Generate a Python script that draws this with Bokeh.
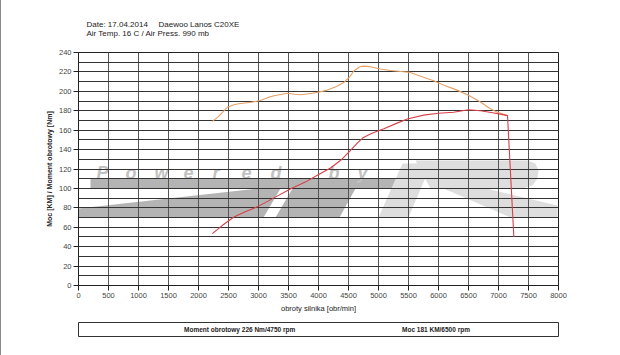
from bokeh.plotting import figure
from bokeh.layouts import column
from bokeh.models import (Range1d, SingleIntervalTicker, Label, Legend, LegendItem,
                          PolyAnnotation)
from bokeh.embed import file_html
from bokeh.resources import INLINE

# ---------------- data ----------------
title_date = "Date: 17.04.2014"
title_car = "Daewoo Lanos C20XE"
title_air = "Air Temp. 16 C / Air Press. 990 mb"
x_label = "obroty silnika [obr/min]"
y_label = "Moc [KM] / Moment obrotowy [Nm]"
torque_name = "Moment obrotowy 226 Nm/4750 rpm"
power_name = "Moc 181 KM/6500 rpm"
watermark_text = "Powered by"

torque_rpm = [2230, 2330, 2480, 2600, 2700, 2850, 3030, 3150, 3260, 3480, 3600, 3700,
              3900, 4140, 4300, 4420, 4520, 4590, 4680, 4750, 4850, 5030, 5200, 5370,
              5530, 5750, 5920, 6100, 6300, 6500, 6700, 6850, 6980, 7080, 7150]
torque_nm = [169, 174, 183.5, 186.5, 187.5, 188.5, 190.5, 193.5, 195.5, 198, 197, 196.5,
             198, 201, 205, 209, 215, 221, 225, 226, 225.5, 223, 221.5, 220.5,
             219.5, 214.5, 211, 206, 201.5, 196, 189, 182.5, 178.5, 176.5, 175]

power_rpm = [2230, 2400, 2590, 2780, 2980, 3250, 3530, 3780, 3980, 4200, 4370, 4530,
             4650, 4750, 4900, 5090, 5300, 5480, 5750, 6000, 6250, 6500, 6700, 6900,
             7030, 7150, 7256]
power_km = [53.5, 62, 70.5, 76, 81, 90, 99.5, 106.5, 113.5, 121, 129, 139,
            147, 152.5, 157, 161.5, 167, 171.5, 175.5, 177.5, 178.5, 181, 180, 178,
            176.5, 175, 50]

x_min, x_max, x_step = 0, 8000, 500
y_min, y_max, y_step = 0, 240, 20

# ---------------- layout ----------------
EDGE = 1                      # grey left edge of the picture
W = 620 - EDGE                # figure width
H_TOP, H_MAIN, H_LEG = 40, 278, 37
CL, CR = 78, 558              # frame left/right in page pixels
FL, FR = CL - EDGE, CR - EDGE # same, inside figures
FT, FB = 52 - H_TOP, 285 - H_TOP        # frame top/bottom inside main figure
LEG_TOP, LEG_BOT = 322 - H_TOP - H_MAIN, 336 - H_TOP - H_MAIN
FONT = "Liberation Sans"
TORQUE_COL = "#e4a066"
POWER_COL = "#d8404a"


def strip_fig(h, top_border, bottom_border, outline):
    # frame spans page pixels CL..CR horizontally; ranges are in page pixels
    f = figure(width=W, height=h, x_range=Range1d(CL, CR),
               y_range=Range1d(h - bottom_border, top_border),
               x_axis_type=None, y_axis_type=None, output_backend="svg",
               toolbar_location=None, min_border_left=FL, min_border_right=W - FR,
               min_border_top=top_border, min_border_bottom=bottom_border)
    f.outline_line_color = outline
    f.background_fill_color = "white"
    f.border_fill_color = "white"
    return f


# ---- title strip ----
top = strip_fig(H_TOP, 0, 0, None)
for txt, px, py in ((title_date, 86, 24), (title_car, 158, 24), (title_air, 86, 33)):
    top.add_layout(Label(x=px, y=py, text=txt, text_font=FONT, text_font_size="8px",
                         text_color="#222222", text_baseline="alphabetic"))

# ---- main chart ----
p = figure(width=W, height=H_MAIN, x_range=Range1d(x_min, x_max), y_range=Range1d(y_min, y_max),
           output_backend="svg", toolbar_location=None,
           min_border_left=FL, min_border_right=W - FR,
           min_border_top=FT, min_border_bottom=H_MAIN - FB)
p.background_fill_color = "white"
p.border_fill_color = "white"
p.outline_line_color = "#222222"

p.xaxis.ticker = SingleIntervalTicker(interval=x_step, num_minor_ticks=0)
p.yaxis.ticker = SingleIntervalTicker(interval=y_step, num_minor_ticks=2)
for ax in (p.xaxis[0], p.yaxis[0]):
    ax.axis_line_color = "#222222"
    ax.major_tick_line_color = "#222222"
    ax.major_tick_out = 5
    ax.major_tick_in = 0
    ax.minor_tick_line_color = None
    ax.major_label_text_font = FONT
    ax.major_label_text_font_size = "7.5px"
    ax.major_label_text_color = "#444444"
    ax.major_label_standoff = 2
    ax.axis_label_text_font = FONT
    ax.axis_label_text_color = "#222222"

p.xaxis.axis_label = x_label
p.xaxis.axis_label_text_font_size = "7.5px"
p.xaxis.axis_label_text_font_style = "normal"
p.xaxis.axis_label_standoff = 3
p.yaxis.axis_label = y_label
p.yaxis.axis_label_text_font_size = "7px"
p.yaxis.axis_label_text_font_style = "bold"
p.yaxis.axis_label_standoff = 3

p.xgrid.grid_line_color = "#555555"
p.ygrid.grid_line_color = "#333333"
p.ygrid.minor_grid_line_color = "#333333"

# watermark (decoration, page pixels converted to the main figure's canvas)
DARK = "#b4b4b4"
LIGHT = "#dedede"
wm_shapes = [
    (DARK, [90, 411, 403, 90], [178, 178, 188, 188]),
    (DARK, [78, 258, 280, 263, 78], [208, 188, 188, 217, 217]),
    (DARK, [292, 355, 339, 275], [188, 188, 217, 217]),
    (LIGHT, [402, 431, 408, 378], [163, 163, 217, 217]),
    (LIGHT, [415, 527, 535, 538, 537, 532, 522, 430], [160, 160, 163, 170, 178, 185, 188, 188]),
    (LIGHT, [443, 486, 557, 557, 510], [188, 188, 205, 217, 217]),
]
for col, xs, ys in wm_shapes:
    p.add_layout(PolyAnnotation(xs=[v - EDGE for v in xs], ys=[v - H_TOP for v in ys],
                                xs_units="canvas", ys_units="canvas",
                                fill_color=col, fill_alpha=1, line_color=None, level="image"))


def cx(px):
    return (px - CL) / (CR - CL) * (x_max - x_min) + x_min


def cy(py):
    return (FB - (py - H_TOP)) / (FB - FT) * (y_max - y_min) + y_min


for i, ch in enumerate(watermark_text):
    if ch == " ":
        continue
    p.add_layout(Label(x=cx(96 + i * 29), y=cy(172), text=ch, text_font=FONT,
                       text_font_size="18px", text_font_style="bold italic",
                       text_color="#c2c2c2", text_baseline="alphabetic", level="image"))

r_t = p.line(torque_rpm, torque_nm, line_color=TORQUE_COL, line_width=1.1)
r_p = p.line(power_rpm, power_km, line_color=POWER_COL, line_width=1.1)

# ---- legend strip (its frame outline is the legend box) ----
leg_fig = strip_fig(H_LEG, LEG_TOP, H_LEG - LEG_BOT, "#333333")
lt = leg_fig.line([], [], line_color=TORQUE_COL, line_width=1.1)
lp = leg_fig.line([], [], line_color=POWER_COL, line_width=1.1)
for rend, name, gx in ((lt, torque_name, 168), (lp, power_name, 386)):
    leg = Legend(items=[LegendItem(label=name, renderers=[rend])],
                 location=(gx - CL, 2),
                 padding=0, margin=0, border_line_color=None, background_fill_alpha=0,
                 glyph_width=13, glyph_height=10, label_height=10, label_standoff=3,
                 label_text_font=FONT, label_text_font_size="6.5px",
                 label_text_font_style="bold", label_text_color="#222222")
    leg_fig.add_layout(leg, "center")

page = column(top, p, leg_fig, spacing=0,
              styles={"border-left": f"{EDGE}px solid #8a8a8a"})

open("out.html", "w").write(file_html(page, INLINE))
